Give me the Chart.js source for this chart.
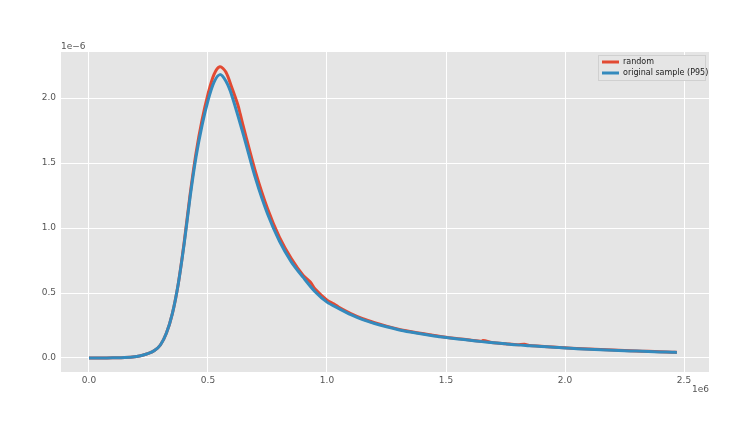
<!DOCTYPE html>
<html>
<head>
<meta charset="utf-8">
<script src="https://cdn.jsdelivr.net/npm/chart.js@4"></script>
<style>
  html, body { margin: 0; padding: 0; background: #fff; }
  #wrap { width: 746px; height: 426px; }
</style>
</head>
<body>
<div id="wrap"><canvas id="kde" width="746" height="426"></canvas></div>
<script>
// values; x in units of 1e6, y in units of 1e-6
const origX = [0.00, 0.05, 0.10, 0.15, 0.20, 0.225, 0.25, 0.275, 0.30, 0.325, 0.35, 0.375, 0.40, 0.425, 0.45, 0.475, 0.50, 0.525, 0.55, 0.575, 0.60, 0.65, 0.70, 0.75, 0.80, 0.85, 0.90, 0.95,
               1.00, 1.05, 1.10, 1.15, 1.20, 1.25, 1.30, 1.35, 1.40, 1.45, 1.50, 1.55, 1.60, 1.65, 1.70, 1.75, 1.80, 1.85, 1.90, 1.95,
               2.00, 2.05, 2.10, 2.15, 2.20, 2.25, 2.30, 2.35, 2.40, 2.45, 2.47];
const origY = [0.000, 0.000, 0.001, 0.003, 0.012, 0.021, 0.035, 0.057, 0.100, 0.19, 0.34, 0.57, 0.88, 1.24, 1.55, 1.79, 1.98, 2.12, 2.18, 2.13, 2.02, 1.71, 1.38, 1.11, 0.90, 0.74, 0.62, 0.51,
               0.43, 0.380, 0.333, 0.295, 0.265, 0.240, 0.218, 0.200, 0.184, 0.170, 0.158, 0.147, 0.136, 0.126, 0.117, 0.109, 0.101, 0.095, 0.089, 0.083,
               0.077, 0.072, 0.068, 0.064, 0.060, 0.056, 0.053, 0.050, 0.047, 0.044, 0.043];

const randX = [0.00, 0.05, 0.10, 0.15, 0.20, 0.225, 0.25, 0.275, 0.30, 0.325, 0.35, 0.375, 0.40, 0.425, 0.45, 0.475, 0.50, 0.525, 0.55, 0.575, 0.60, 0.625, 0.635, 0.65, 0.70, 0.75, 0.80, 0.85, 0.90, 0.93, 0.95,
               1.00, 1.03, 1.05, 1.10, 1.15, 1.20, 1.25, 1.30, 1.35, 1.40, 1.44, 1.45, 1.50, 1.55, 1.60, 1.65, 1.655, 1.70, 1.75, 1.80, 1.83, 1.85, 1.90, 1.95,
               2.00, 2.05, 2.10, 2.15, 2.20, 2.25, 2.30, 2.35, 2.40, 2.45, 2.47];
const randY = [0.000, 0.000, 0.001, 0.003, 0.012, 0.021, 0.035, 0.057, 0.100, 0.19, 0.34, 0.57, 0.89, 1.26, 1.58, 1.83, 2.03, 2.18, 2.24, 2.20, 2.08, 1.95, 1.88, 1.77, 1.43, 1.15, 0.93, 0.765, 0.635, 0.585, 0.53,
               0.445, 0.415, 0.390, 0.342, 0.302, 0.271, 0.245, 0.222, 0.204, 0.188, 0.178, 0.173, 0.160, 0.149, 0.138, 0.128, 0.134, 0.118, 0.110, 0.102, 0.105, 0.096, 0.090, 0.084,
               0.078, 0.073, 0.069, 0.065, 0.061, 0.057, 0.054, 0.051, 0.048, 0.045, 0.044];

const xTicks = [0.0, 0.5, 1.0, 1.5, 2.0, 2.5];
const yTicks = [0.0, 0.5, 1.0, 1.5, 2.0];

const seriesLabels = ['random', 'original sample (P95)'];

const colors = {
    red: '#E24A33',
    blue: '#348ABD',
    panel: '#E5E5E5',
    grid: '#FFFFFF',
    tick: '#555555'
};

const toPoints = (xs, ys) => xs.map((x, i) => ({ x: x, y: ys[i] }));

// panel background, offset labels and in-plot legend
const decorPlugin = {
    id: 'decor',
    beforeDraw(chart) {
        const { ctx, chartArea: a } = chart;
        ctx.save();
        ctx.fillStyle = colors.panel;
        ctx.fillRect(a.left, a.top, a.right - a.left, a.bottom - a.top);
        ctx.restore();
    },
    afterDraw(chart) {
        const { ctx, chartArea: a } = chart;
        ctx.save();
        ctx.font = '9px "DejaVu Sans"';
        ctx.fillStyle = colors.tick;
        ctx.textBaseline = 'alphabetic';
        ctx.textAlign = 'left';
        ctx.fillText('1e\u22126', a.left, a.top - 3);
        ctx.textAlign = 'right';
        ctx.fillText('1e6', a.right, a.bottom + 20);

        // legend box
        const bx = a.right - 111, by = a.top + 3, bw = 108, bh = 26;
        ctx.fillStyle = colors.panel;
        ctx.strokeStyle = '#D0D0D0';
        ctx.lineWidth = 1;
        ctx.fillRect(bx, by, bw, bh);
        ctx.strokeRect(bx + 0.5, by + 0.5, bw - 1, bh - 1);
        const sw = [colors.red, colors.blue];
        seriesLabels.forEach((lab, i) => {
            const yy = by + 7 + i * 11;
            ctx.strokeStyle = sw[i];
            ctx.lineWidth = 3;
            ctx.beginPath();
            ctx.moveTo(bx + 4, yy);
            ctx.lineTo(bx + 21, yy);
            ctx.stroke();
            ctx.fillStyle = '#222';
            ctx.font = '8px "DejaVu Sans"';
            ctx.textAlign = 'left';
            ctx.textBaseline = 'middle';
            ctx.fillText(lab, bx + 25, yy);
        });
        ctx.restore();
    }
};

new Chart(document.getElementById('kde'), {
    type: 'line',
    data: {
        datasets: [
            {
                label: seriesLabels[0],
                data: toPoints(randX, randY),
                borderColor: colors.red,
                borderWidth: 3,
                pointRadius: 0,
                tension: 0.3,
                fill: false,
                order: 1
            },
            {
                label: seriesLabels[1],
                data: toPoints(origX, origY),
                borderColor: colors.blue,
                borderWidth: 3,
                pointRadius: 0,
                tension: 0.3,
                fill: false,
                order: 0
            }
        ]
    },
    options: {
        responsive: false,
        animation: false,
        events: [],
        layout: { padding: { left: 0, top: 52, right: 37, bottom: 0 } },
        plugins: { legend: { display: false }, tooltip: { enabled: false } },
        scales: {
            x: {
                type: 'linear',
                min: -0.1176,
                max: 2.605,
                afterBuildTicks: s => { s.ticks = xTicks.map(v => ({ value: v })); },
                afterFit: s => { s.height = 54; },
                grid: { color: colors.grid, lineWidth: 1, drawTicks: false },
                border: { display: false },
                ticks: {
                    color: colors.tick,
                    font: { family: 'DejaVu Sans', size: 9 },
                    padding: 3,
                    maxRotation: 0,
                    callback: v => v.toFixed(1)
                }
            },
            y: {
                type: 'linear',
                min: -0.1077,
                max: 2.354,
                afterBuildTicks: s => { s.ticks = yTicks.map(v => ({ value: v })); },
                afterFit: s => { s.width = 61; },
                grid: { color: colors.grid, lineWidth: 1, drawTicks: false },
                border: { display: false },
                ticks: {
                    color: colors.tick,
                    font: { family: 'DejaVu Sans', size: 9 },
                    padding: 5,
                    callback: v => v.toFixed(1)
                }
            }
        }
    },
    plugins: [decorPlugin]
});
</script>
</body>
</html>
